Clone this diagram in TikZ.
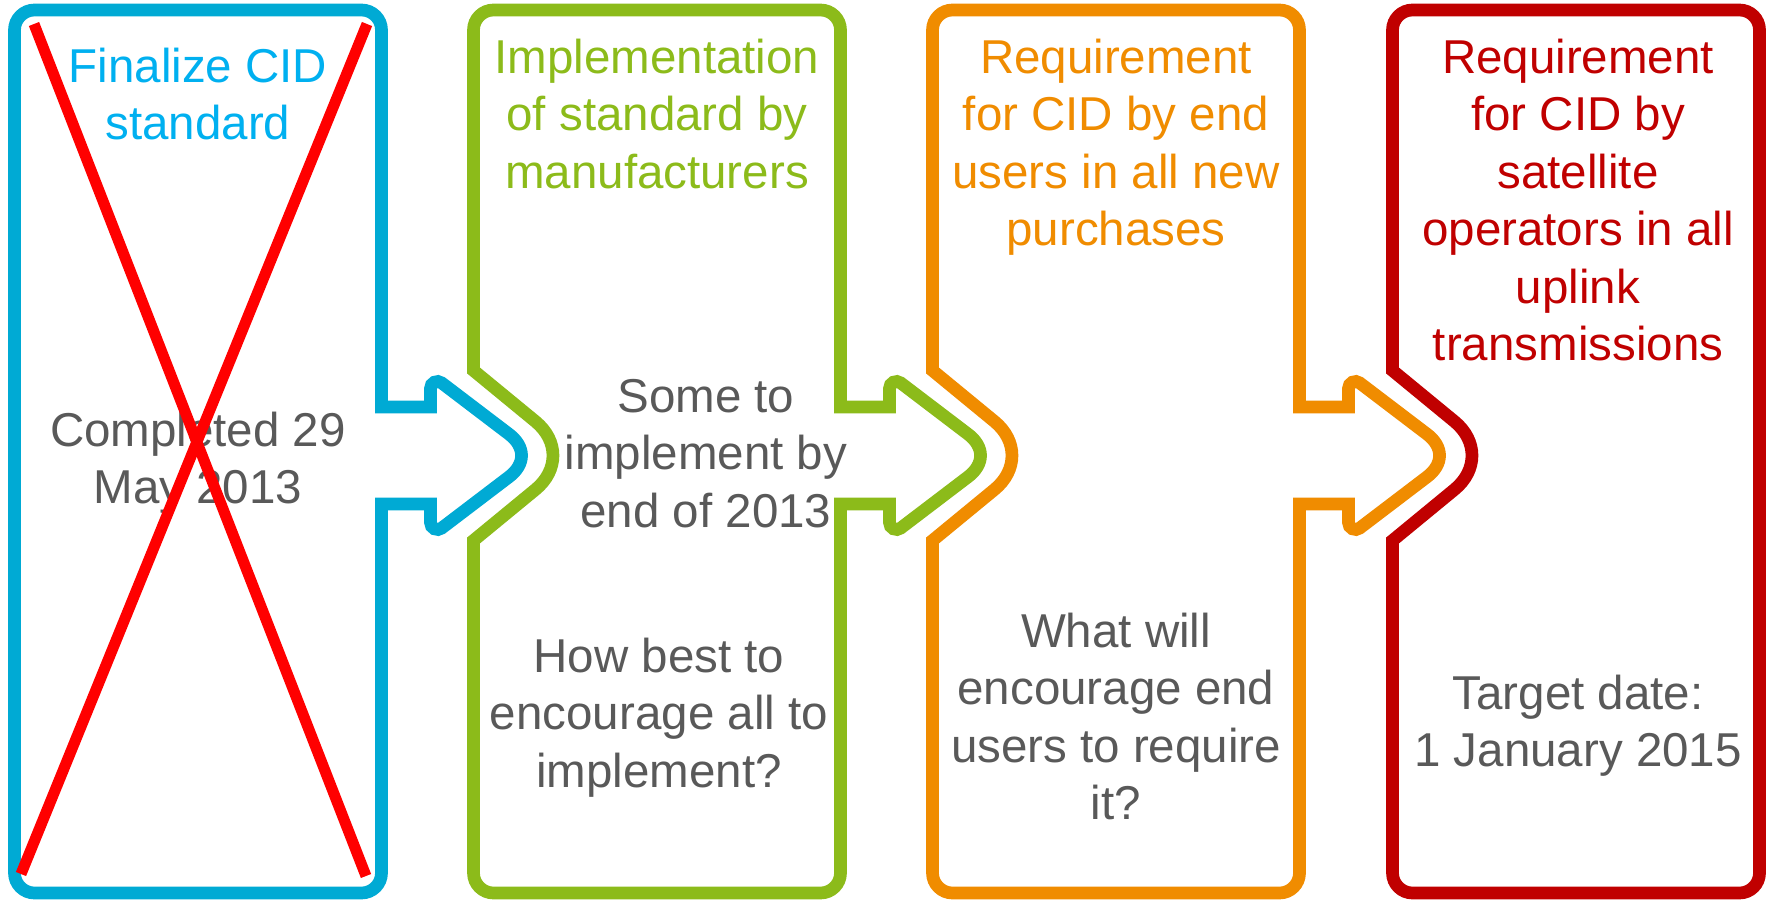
\documentclass[tikz,border=0pt]{standalone}
\usepackage{fontspec}
\setmainfont{Liberation Sans}
\definecolor{cblue}{RGB}{0,170,212}
\definecolor{cbluetext}{RGB}{0,176,240}
\definecolor{cgreen}{RGB}{140,187,26}
\definecolor{corange}{RGB}{240,140,0}
\definecolor{cdarkred}{RGB}{192,0,0}
\definecolor{txtgray}{RGB}{89,89,89}
\definecolor{crossred}{RGB}{255,0,0}
\tikzset{
  boxframe/.style={line width=12.7pt, line join=miter},
  headtext/.style={anchor=north, inner sep=0pt, align=center, font=\fontsize{47.5}{57.5}\selectfont},
  bodytext/.style={headtext, text=txtgray},
  crossline/.style={line width=11pt, draw=crossred, line cap=butt}
}
\newcommand{\fl}{\rule{0pt}{40pt}}
\begin{document}
\begin{tikzpicture}[x=1pt,y=-1pt]
\fill[white] (0,0) rectangle (1771,899);
\useasboundingbox (0,0) rectangle (1771,899);

% Box 1 (blue)
\begin{scope}[xshift=14.5pt]
\draw[boxframe, draw=cblue] (0,30) .. controls (0,19) and (9,10) .. (20,10) -- (347,10)
  .. controls (358,10) and (367,19) .. (367,30) -- (367,407) -- (416,407) -- (416,388.5)
  .. controls (416,382.7) and (422.6,379.4) .. (427.2,382.9) -- (494.2,433.9)
  .. controls (511.3,446.7) and (511.3,464.3) .. (494.2,477.1) -- (427.2,528.1)
  .. controls (422.6,531.6) and (416,528.3) .. (416,522.5) -- (416,504) -- (367,504)
  -- (367,873) .. controls (367,884) and (358,893) .. (347,893) -- (20,893)
  .. controls (9,893) and (0,884) .. (0,873) -- cycle;
\end{scope}

% Box 2 (green)
\begin{scope}[xshift=473.5pt]
\draw[boxframe, draw=cgreen] (0,30) .. controls (0,19) and (9,10) .. (20,10) -- (347,10)
  .. controls (358,10) and (367,19) .. (367,30) -- (367,407) -- (416,407) -- (416,388.5)
  .. controls (416,382.7) and (422.6,379.4) .. (427.2,382.9) -- (494.2,433.9)
  .. controls (511.3,446.7) and (511.3,464.3) .. (494.2,477.1) -- (427.2,528.1)
  .. controls (422.6,531.6) and (416,528.3) .. (416,522.5) -- (416,504) -- (367,504)
  -- (367,873) .. controls (367,884) and (358,893) .. (347,893) -- (20,893)
  .. controls (9,893) and (0,884) .. (0,873) -- (0,540.5) -- (62,489.5)
  .. controls (85.3,470.3) and (85.3,440.7) .. (62,421.5) -- (0,370.5) -- cycle;
\end{scope}

% Box 3 (orange)
\begin{scope}[xshift=932.5pt]
\draw[boxframe, draw=corange] (0,30) .. controls (0,19) and (9,10) .. (20,10) -- (347,10)
  .. controls (358,10) and (367,19) .. (367,30) -- (367,407) -- (416,407) -- (416,388.5)
  .. controls (416,382.7) and (422.6,379.4) .. (427.2,382.9) -- (494.2,433.9)
  .. controls (511.3,446.7) and (511.3,464.3) .. (494.2,477.1) -- (427.2,528.1)
  .. controls (422.6,531.6) and (416,528.3) .. (416,522.5) -- (416,504) -- (367,504)
  -- (367,873) .. controls (367,884) and (358,893) .. (347,893) -- (20,893)
  .. controls (9,893) and (0,884) .. (0,873) -- (0,540.5) -- (62,489.5)
  .. controls (85.3,470.3) and (85.3,440.7) .. (62,421.5) -- (0,370.5) -- cycle;
\end{scope}

% Box 4 (dark red)
\begin{scope}[xshift=1392.5pt]
\draw[boxframe, draw=cdarkred] (0,30) .. controls (0,19) and (9,10) .. (20,10) -- (347,10)
  .. controls (358,10) and (367,19) .. (367,30)
  -- (367,873) .. controls (367,884) and (358,893) .. (347,893) -- (20,893)
  .. controls (9,893) and (0,884) .. (0,873) -- (0,540.5) -- (62,489.5)
  .. controls (85.3,470.3) and (85.3,440.7) .. (62,421.5) -- (0,370.5) -- cycle;
\end{scope}

% Texts
\node[headtext, text=cbluetext] (t1h) at (198,42) {\fl Finalize CID\\standard};
\node[bodytext] (t1b) at (198,406) {\fl Completed 29\\May 2013};

\node[headtext, text=cgreen] (t2h) at (657,33) {\fl Implementation\\of standard by\\manufacturers};
\node[bodytext] (t2m) at (706,372) {\fl Some to\\implement by\\end of 2013};
\node[bodytext] (t2b) at (659,632) {\fl How best to\\encourage all to\\implement?};

\node[headtext, text=corange] (t3h) at (1116,33) {\fl Requirement\\for CID by end\\users in all new\\purchases};
\node[bodytext] (t3b) at (1116,607) {\fl What will\\encourage end\\users to require\\it?};

\node[headtext, text=cdarkred] (t4h) at (1578,33) {\fl Requirement\\for CID by\\satellite\\operators in all\\uplink\\transmissions};
\node[bodytext] (t4b) at (1578,669) {\fl Target date:\\1 January 2015};

% Red cross over box 1
\coordinate (xa1) at (34,24);
\coordinate (xa2) at (366,876);
\coordinate (xb1) at (367,24);
\coordinate (xb2) at (21,874);
\draw[crossline] (xa1) -- (xa2);
\draw[crossline] (xb1) -- (xb2);
\end{tikzpicture}
\end{document}
